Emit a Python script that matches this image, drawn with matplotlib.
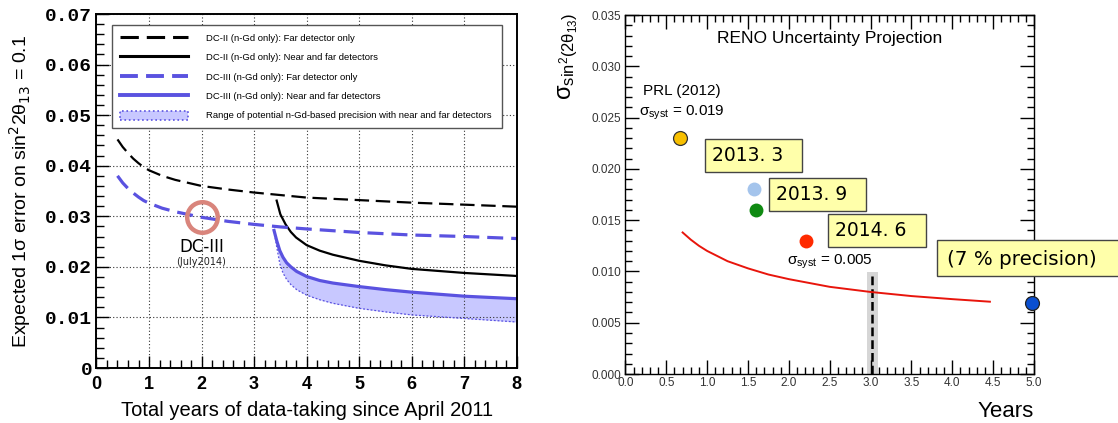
import numpy as np
import matplotlib
matplotlib.use("Agg")
import matplotlib.pyplot as plt
import matplotlib.ticker as mticker
from matplotlib.lines import Line2D
from matplotlib.patches import Patch, Rectangle

plt.rcParams['font.family'] = ['Liberation Sans', 'DejaVu Sans']
plt.rcParams['mathtext.fontset'] = 'dejavusans'

BLUE = '#5a52e0'
BAND = '#c8c8ff'
NOTE_FC = '#ffffaa'

# ---- left panel: Double Chooz projected sensitivity ----
x_far = [0.4, 0.5, 0.6, 0.7, 0.8, 0.9, 1.0, 1.25, 1.5, 2.0, 2.5, 3.0, 3.5,
         4.0, 5.0, 6.0, 7.0, 8.0]
dc2_far = [0.0452, 0.0437, 0.0425, 0.0414, 0.0405, 0.0397, 0.0391, 0.0380,
           0.0372, 0.0360, 0.0353, 0.0347, 0.0342, 0.0337, 0.0332, 0.0327,
           0.0323, 0.0319]
dc3_far = [0.0380, 0.0366, 0.0355, 0.0346, 0.0338, 0.0331, 0.0326, 0.0316,
           0.0309, 0.0298, 0.0290, 0.0284, 0.0279, 0.0275, 0.0268, 0.0263,
           0.0260, 0.0256]

x_dc2_nf = [3.43, 3.5, 3.6, 3.7, 3.8, 4.0, 4.25, 4.5, 5.0, 5.5, 6.0, 7.0, 8.0]
dc2_nf = [0.0331, 0.0304, 0.0284, 0.0269, 0.0258, 0.0243, 0.0232, 0.0224,
          0.0212, 0.0203, 0.0196, 0.0188, 0.0182]

x_dc3_nf = [3.38, 3.43, 3.49, 3.55, 3.62, 3.7, 3.81, 4.0, 4.25, 4.5, 5.0,
            5.5, 6.0, 7.0, 8.0]
dc3_nf = [0.0272, 0.0252, 0.0232, 0.0219, 0.0208, 0.0200, 0.0191, 0.0181,
          0.0173, 0.0168, 0.0161, 0.0155, 0.0150, 0.0142, 0.0137]
dc3_low = [0.0272, 0.0240, 0.0206, 0.0188, 0.0175, 0.0165, 0.0155, 0.0144,
           0.0135, 0.0128, 0.0118, 0.0111, 0.0105, 0.0098, 0.0091]

dc3_mark = (2.0, 0.0298)

# ---- right panel: RENO uncertainty projection ----
reno_x = [0.70, 0.80, 0.90, 1.0, 1.25, 1.5, 1.75, 2.0, 2.5, 3.0, 3.5, 4.0, 4.46]
reno_y = [0.0138, 0.0131, 0.0125, 0.0120, 0.0110, 0.0103, 0.0097, 0.00925,
          0.0085, 0.0080, 0.0076, 0.0073, 0.00705]

pt_x = [0.67, 1.57, 1.60, 2.21, 4.97]
pt_y = [0.0230, 0.0180, 0.0160, 0.0130, 0.0069]
pt_col = ['#f7bf00', '#a4c4ec', '#0f8a12', '#ff2a00', '#0a4fd0']
pt_edge = ['#333333', 'none', 'none', 'none', '#222222']

date_labels = ['2013. 3', '2013. 9', '2014. 6']
date_x = [1.06, 1.84, 2.57]
date_y = [0.0208, 0.0170, 0.01345]

fig = plt.figure(figsize=(11.18, 4.23), dpi=100)

# left
ax = fig.add_axes([0.0863, 0.130, 0.3759, 0.8369])
ax.plot(x_far, dc2_far, color='black', lw=1.6, ls=(0, (6.5, 3)))
ax.plot(x_dc2_nf, dc2_nf, color='black', lw=1.6)
ax.plot(x_far, dc3_far, color=BLUE, lw=2.3, ls=(0, (5, 2.5)))
ax.fill_between(x_dc3_nf, dc3_low, dc3_nf, color=BAND, lw=0)
ax.plot(x_dc3_nf, dc3_low, color=BLUE, lw=0.9, ls=(0, (1.5, 1.5)))
ax.plot(x_dc3_nf, dc3_nf, color=BLUE, lw=2.3)
ax.plot(*dc3_mark, marker='o', ms=22, mfc='none', mec='#d9857c', mew=3.2)
ax.text(dc3_mark[0], 0.0240, 'DC-III', ha='center', va='center',
        fontsize=12, family='DejaVu Sans')
ax.text(dc3_mark[0], 0.0210, '(July2014)', ha='center', va='center',
        fontsize=7, family='DejaVu Sans', color='#222222')

ax.set_xlim(0, 8)
ax.set_ylim(0, 0.07)
ax.set_xticks(range(9))
ax.set_yticks(np.arange(0, 0.0701, 0.01))
ax.xaxis.set_minor_locator(mticker.MultipleLocator(0.2))
ax.yaxis.set_minor_locator(mticker.MultipleLocator(0.002))
ax.yaxis.set_major_formatter(mticker.FuncFormatter(
    lambda v, p: '0' if abs(v) < 1e-9 else '%.2f' % v))
ax.tick_params(which='both', direction='in', top=False, right=False)
ax.tick_params(which='major', length=9, width=1)
ax.tick_params(which='minor', length=6, width=1)
ax.tick_params(axis='y', pad=3)
ax.tick_params(axis='x', pad=6)
plt.setp(ax.get_yticklabels(), family='Liberation Mono', weight='bold', fontsize=14)
plt.setp(ax.get_xticklabels(), family='Liberation Sans', weight='bold', fontsize=13)
ax.grid(True, which='major', ls=(0, (1, 2)), color='#333333', lw=0.8)
for s in ax.spines.values():
    s.set_linewidth(1.4)

ax.set_xlabel('Total years of data-taking since April 2011', fontsize=14.5)
ax.xaxis.set_label_coords(0.5, -0.093)
ax.set_ylabel('Expected 1σ error on sin$^{2}$2θ$_{13}$ = 0.1', fontsize=14)
ax.yaxis.set_label_coords(-0.152, 0.5)

handles = [
    Line2D([], [], color='black', lw=2.2, ls=(0, (6, 2.6))),
    Line2D([], [], color='black', lw=2.2),
    Line2D([], [], color=BLUE, lw=2.8, ls=(0, (4.6, 2.1))),
    Line2D([], [], color=BLUE, lw=2.8),
    Patch(facecolor=BAND, edgecolor=BLUE, ls=':', lw=1.2),
]
labels = ['DC-II (n-Gd only): Far detector only',
          'DC-II (n-Gd only): Near and far detectors',
          'DC-III (n-Gd only): Far detector only',
          'DC-III (n-Gd only): Near and far detectors',
          'Range of potential n-Gd-based precision with near and far detectors']
leg = ax.legend(handles, labels, loc='upper left', mode='expand',
                bbox_to_anchor=(0.037, 0.0, 0.928, 0.969), fontsize=6.8,
                handlelength=7.2, handleheight=1.1, handletextpad=1.9,
                borderpad=0.85, labelspacing=1.02, fancybox=False,
                framealpha=1, edgecolor='#555555', borderaxespad=0)
leg.get_frame().set_linewidth(1.0)

# right
bx = fig.add_axes([0.5594, 0.1158, 0.3655, 0.8487])
bx.axvspan(2.95, 3.09, ymax=0.0099 / 0.035, color='#d6d6d6', lw=0)
bx.plot([3.02, 3.02], [0, 0.0096], color='black', lw=1.8, ls=(0, (3.5, 1.6)))
bx.plot(reno_x, reno_y, color='#e8150c', lw=1.4)
for x, y, c, e in zip(pt_x, pt_y, pt_col, pt_edge):
    bx.plot(x, y, 'o', ms=10, mfc=c, mec=e, mew=0.9, clip_on=False, zorder=5)

for lab, x, y in zip(date_labels, date_x, date_y):
    bx.text(x, y, lab + '  ', ha='left', va='baseline', fontsize=13.5,
            family='DejaVu Sans', clip_on=False, zorder=6,
            bbox=dict(boxstyle='square,pad=0.38', fc=NOTE_FC, ec='#444444', lw=1))

# the precision note runs off the right edge of the figure
bx.add_patch(Rectangle((3.81, 0.00955), 3.0, 0.0035, fc=NOTE_FC, ec='#444444',
                       lw=1, clip_on=False, zorder=6))
bx.text(3.94, 0.01063, '(7 % precision)', ha='left', va='baseline',
        fontsize=14.3, family='DejaVu Sans', zorder=7)

bx.text(2.5, 0.0327, 'RENO Uncertainty Projection', ha='center', va='center',
        fontsize=12.5)
bx.text(0.69, 0.0276, 'PRL (2012)', ha='center', va='center', fontsize=11)
bx.text(0.69, 0.0255, r'$\mathregular{σ_{syst}}$ = 0.019', ha='center',
        va='center', fontsize=11)
bx.text(2.5, 0.0109, r'$\mathregular{σ_{syst}}$ = 0.005', ha='center',
        va='center', fontsize=11)

bx.set_xlim(0, 5)
bx.set_ylim(0, 0.035)
bx.xaxis.set_major_locator(mticker.MultipleLocator(0.5))
bx.xaxis.set_minor_locator(mticker.MultipleLocator(0.1))
bx.yaxis.set_major_locator(mticker.MultipleLocator(0.005))
bx.yaxis.set_minor_locator(mticker.MultipleLocator(0.001))
bx.xaxis.set_major_formatter(mticker.FormatStrFormatter('%.1f'))
bx.yaxis.set_major_formatter(mticker.FormatStrFormatter('%.3f'))
bx.tick_params(which='both', direction='in', top=True, right=True,
               labelsize=8.5, labelcolor='#333333')
bx.tick_params(which='major', length=10, width=1)
bx.tick_params(which='minor', length=5, width=1)
bx.tick_params(axis='x', pad=2)
bx.tick_params(axis='y', pad=3)
for s in bx.spines.values():
    s.set_linewidth(1.0)

bx.set_ylabel(r'$\mathregular{σ_{sin^{2}(2θ_{13})}}$', fontsize=17, loc='top')
bx.yaxis.set_label_coords(-0.11, 1.005)
bx.set_xlabel('Years', fontsize=16, loc='right')
bx.xaxis.set_label_coords(1.0, -0.075)

fig.savefig('out.png', dpi=100)
